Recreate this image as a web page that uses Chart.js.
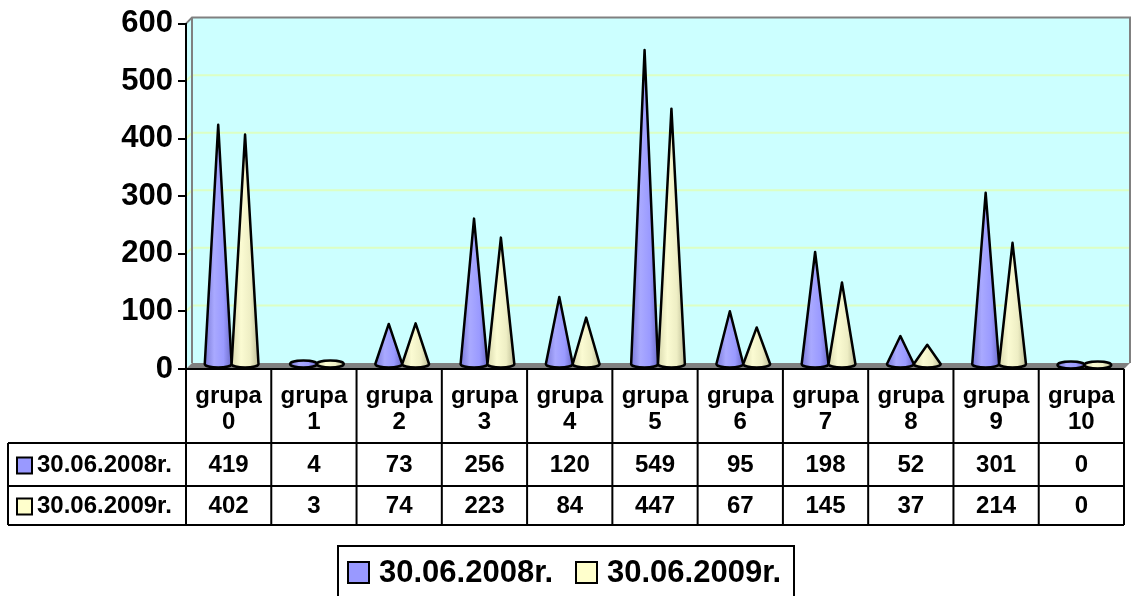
<!DOCTYPE html>
<html lang="pl">

<head>
   <meta charset="UTF-8">
   <title>grupa 0 - grupa 10</title>
   <script src="https://cdn.jsdelivr.net/npm/chart.js@4/dist/chart.umd.min.js"></script>
   <style>
      html, body { margin: 0; padding: 0; background: #fff; }
      #wrap { position: relative; width: 1133px; height: 596px; overflow: hidden; }
   </style>
</head>

<body>
   <div id="wrap"><canvas id="myChart" width="1133" height="596"></canvas></div>
   <script>
      const categories = ['grupa 0', 'grupa 1', 'grupa 2', 'grupa 3', 'grupa 4', 'grupa 5',
         'grupa 6', 'grupa 7', 'grupa 8', 'grupa 9', 'grupa 10'];
      const seriesLabels = ['30.06.2008r.', '30.06.2009r.'];
      const values2008 = [419, 4, 73, 256, 120, 549, 95, 198, 52, 301, 0];
      const values2009 = [402, 3, 74, 223, 84, 447, 67, 145, 37, 214, 0];
      const yTicks = [0, 100, 200, 300, 400, 500, 600];

      const FONT = 'Arial, "Liberation Sans", sans-serif';
      const DEPTH = 6; // 3d offset of the back wall
      const swatch = ['#9999ff', '#ffffcc'];
      const coneShade = [
         ['#7a7ad8', '#a9a9ff', '#9a9aff', '#6c6cc8'],
         ['#d9d9ae', '#fbfbd2', '#eeeec4', '#bdbd96']
      ];

      // walls, floor and gridlines behind the cones
      const walls = {
         id: 'walls',
         beforeDraw(chart) {
            const { ctx, chartArea: a, scales: { y } } = chart;
            ctx.save();
            ctx.fillStyle = '#ccffff';
            ctx.fillRect(a.left + DEPTH, a.top - DEPTH, a.width, a.height);
            ctx.beginPath();
            ctx.moveTo(a.left, a.top);
            ctx.lineTo(a.left + DEPTH, a.top - DEPTH);
            ctx.lineTo(a.left + DEPTH, a.bottom - DEPTH);
            ctx.lineTo(a.left, a.bottom);
            ctx.closePath();
            ctx.fill();

            // gridlines
            ctx.strokeStyle = '#dcffc4';
            ctx.lineWidth = 2;
            yTicks.forEach(v => {
               if (v === 0 || v === 600) return;
               const py = y.getPixelForValue(v);
               ctx.beginPath();
               ctx.moveTo(a.left, py);
               ctx.lineTo(a.left + DEPTH, py - DEPTH);
               ctx.lineTo(a.right + DEPTH, py - DEPTH);
               ctx.stroke();
            });

            // wall borders
            ctx.strokeStyle = '#808080';
            ctx.beginPath();
            ctx.moveTo(a.left, a.top);
            ctx.lineTo(a.left + DEPTH, a.top - DEPTH);
            ctx.lineTo(a.right + DEPTH, a.top - DEPTH);
            ctx.lineTo(a.right + DEPTH, a.bottom - DEPTH);
            ctx.moveTo(a.left + DEPTH, a.top - DEPTH);
            ctx.lineTo(a.left + DEPTH, a.bottom - DEPTH);
            ctx.stroke();

            // floor
            ctx.fillStyle = '#808080';
            ctx.beginPath();
            ctx.moveTo(a.left, a.bottom);
            ctx.lineTo(a.left + DEPTH, a.bottom - DEPTH);
            ctx.lineTo(a.right + DEPTH, a.bottom - DEPTH);
            ctx.lineTo(a.right, a.bottom);
            ctx.closePath();
            ctx.fill();
            ctx.restore();
         }
      };

      function drawCone(ctx, cx, baseY, tipY, r, shade) {
         const ry = 3.5;
         const g = ctx.createLinearGradient(cx - r, 0, cx + r, 0);
         g.addColorStop(0, shade[0]);
         g.addColorStop(0.35, shade[1]);
         g.addColorStop(0.7, shade[2]);
         g.addColorStop(1, shade[3]);
         ctx.fillStyle = g;
         ctx.strokeStyle = '#000';
         ctx.lineWidth = 2.5;
         ctx.lineJoin = 'round';
         ctx.beginPath();
         if (baseY - tipY < 1) {
            ctx.ellipse(cx, baseY, r, ry, 0, 0, Math.PI * 2);
         } else {
            ctx.moveTo(cx - r, baseY);
            ctx.lineTo(cx, tipY);
            ctx.lineTo(cx + r, baseY);
            ctx.ellipse(cx, baseY, r, ry, 0, 0, Math.PI);
            ctx.closePath();
         }
         ctx.fill();
         ctx.stroke();
      }

      const cones = {
         id: 'cones',
         afterDatasetsDraw(chart) {
            const { ctx } = chart;
            ctx.save();
            chart.data.datasets.forEach((ds, d) => {
               chart.getDatasetMeta(d).data.forEach(bar => {
                  const half = DEPTH / 2;
                  drawCone(ctx, bar.x + half, bar.base - half - 1, bar.y - half, bar.width / 2, coneShade[d]);
               });
            });
            ctx.restore();
         }
      };

      // data table under the plot + legend box
      const dataTable = {
         id: 'dataTable',
         afterDraw(chart) {
            const { ctx, chartArea: a, scales: { x } } = chart;
            const colW = a.width / categories.length;
            const rows = [a.bottom, 443, 486, 525];
            const left0 = 8;
            ctx.save();
            ctx.strokeStyle = '#000';
            ctx.lineWidth = 2;
            ctx.beginPath();
            ctx.moveTo(a.left, rows[0]);
            ctx.lineTo(a.right, rows[0]);
            for (let r = 1; r < rows.length; r++) {
               ctx.moveTo(left0, rows[r]);
               ctx.lineTo(a.right, rows[r]);
            }
            for (let i = 0; i <= categories.length; i++) {
               ctx.moveTo(a.left + i * colW, rows[0]);
               ctx.lineTo(a.left + i * colW, rows[3]);
            }
            ctx.moveTo(left0, rows[1]);
            ctx.lineTo(left0, rows[3]);
            ctx.stroke();

            ctx.fillStyle = '#000';
            ctx.font = 'bold 24px ' + FONT;
            ctx.textAlign = 'center';
            ctx.textBaseline = 'middle';
            categories.forEach((c, i) => {
               const cx = x.getPixelForValue(i);
               const parts = c.split(' ');
               ctx.fillText(parts[0], cx, 396);
               ctx.fillText(parts[1], cx, 422);
            });
            [values2008, values2009].forEach((vals, s) => {
               const cy = (rows[s + 1] + rows[s + 2]) / 2 + 1;
               vals.forEach((v, i) => ctx.fillText(String(v), x.getPixelForValue(i), cy));
               ctx.fillStyle = swatch[s];
               ctx.fillRect(17, cy - 8, 15, 16);
               ctx.strokeRect(17, cy - 8, 15, 16);
               ctx.fillStyle = '#000';
               ctx.textAlign = 'left';
               ctx.fillText(seriesLabels[s], 37, cy);
               ctx.textAlign = 'center';
            });

            // legend
            ctx.strokeRect(338, 546, 456, 70);
            ctx.font = 'bold 31px ' + FONT;
            ctx.textAlign = 'left';
            const lx = [348, 576];
            seriesLabels.forEach((lbl, s) => {
               ctx.fillStyle = swatch[s];
               ctx.fillRect(lx[s], 562, 21, 21);
               ctx.strokeRect(lx[s], 562, 21, 21);
               ctx.fillStyle = '#000';
               ctx.fillText(lbl, lx[s] + 31, 573);
            });
            ctx.restore();
         }
      };

      const config = {
         type: 'bar',
         data: {
            labels: categories,
            datasets: [
               { label: seriesLabels[0], data: values2008 },
               { label: seriesLabels[1], data: values2009 }
            ].map(ds => ({
               ...ds,
               backgroundColor: 'rgba(0,0,0,0)',
               borderWidth: 0,
               barPercentage: 1,
               categoryPercentage: 0.63
            }))
         },
         options: {
            responsive: false,
            animation: false,
            layout: { padding: { left: 0, top: 23, right: 9, bottom: 227 } },
            plugins: { legend: { display: false }, tooltip: { enabled: false } },
            scales: {
               x: { display: false },
               y: {
                  min: 0,
                  max: 600,
                  afterFit(scale) { scale.width = 186; },
                  afterBuildTicks(scale) { scale.ticks = yTicks.map(v => ({ value: v })); },
                  ticks: {
                     color: '#000',
                     padding: 5,
                     font: { family: FONT, size: 31, weight: 'bold' }
                  },
                  grid: {
                     drawOnChartArea: false,
                     drawTicks: true,
                     tickLength: 8,
                     color: '#000',
                     lineWidth: 2
                  },
                  border: { display: true, color: '#000', width: 2 }
               }
            }
         },
         plugins: [walls, cones, dataTable]
      };

      const chart = new Chart(document.getElementById('myChart').getContext('2d'), config);
   </script>
</body>

</html>
